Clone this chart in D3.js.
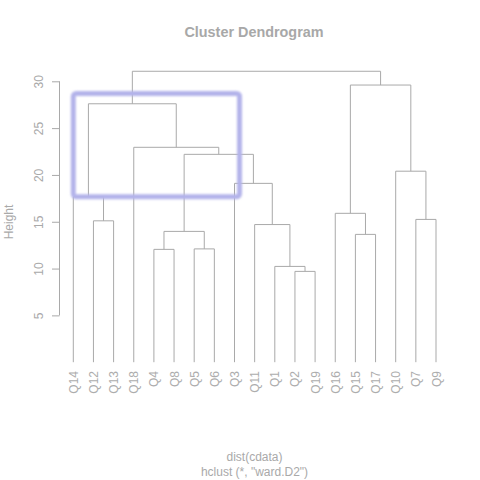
<!DOCTYPE html>
<html><head><meta charset="utf-8">
<script src="https://cdn.jsdelivr.net/npm/d3@7"></script>
<style>body{margin:0;background:#fff}svg{display:block}text{font-family:"Liberation Sans",Arial,sans-serif}</style>
</head><body><svg id="c" width="480" height="480"></svg>
<script>
// leaf order as drawn
const leaves = ["Q14","Q12","Q13","Q18","Q4","Q8","Q5","Q6","Q3","Q11","Q1","Q2","Q19","Q16","Q15","Q17","Q10","Q7","Q9"];
// merges: [left, right, height]; numbers refer to earlier merge steps (1-based)
const merges = [
  ["Q2","Q19",9.7],
  ["Q1",1,10.23],
  ["Q4","Q8",12.05],
  ["Q5","Q6",12.1],
  ["Q15","Q17",13.65],
  [3,4,13.97],
  ["Q11",2,14.7],
  ["Q12","Q13",15.1],
  ["Q7","Q9",15.25],
  ["Q16",5,15.9],
  ["Q14",8,17.67],
  ["Q3",7,19.1],
  ["Q10",9,20.4],
  [6,12,22.2],
  ["Q18",14,22.95],
  [11,15,27.6],
  [10,13,29.6],
  [16,17,31.07]
];
const yTicks = [5,10,15,20,25,30];
const highlight = {from:"Q14", to:"Q3", low:17.67, high:28.7};
const title = "Cluster Dendrogram";
const xlab = ["dist(cdata)", "hclust (*, \"ward.D2\")"];
const ylab = "Height";

const svg = d3.select("#c");
const grey = "#a9a9a9";
const x = d3.scalePoint().domain(leaves).range([73.3, 436]);
const y = d3.scaleLinear().domain([0, 30]).range([362.2, 81.3]);

// build nested tree
function build(ref){
  if (typeof ref === "string") return {name: ref, height: 0};
  const m = merges[ref-1];
  return {height: m[2], children: [build(m[0]), build(m[1])]};
}
const root = d3.hierarchy(build(merges.length));
root.eachAfter(n => {
  if (!n.children) n.px = x(n.data.name);
  else n.px = (n.children[0].px + n.children[1].px) / 2;
  n.py = y(n.data.height);
});

const g = svg.append("g").attr("fill","none").attr("stroke",grey).attr("stroke-width",1);
root.descendants().filter(n => n.children).forEach(n => {
  const [a, b] = n.children;
  g.append("path").attr("d",
    `M${a.px},${a.py}V${n.py}H${b.px}V${b.py}`);
});

// highlight rectangle
const defs = svg.append("defs");
defs.append("filter").attr("id","bl").append("feGaussianBlur").attr("stdDeviation",1);
const step = x.step();
svg.append("rect")
  .attr("x", x(highlight.from))
  .attr("y", y(highlight.high))
  .attr("width", x(highlight.to) + step*0.25 - x(highlight.from))
  .attr("height", y(highlight.low) - y(highlight.high))
  .attr("rx", 3).attr("fill","none")
  .attr("stroke","#b3b3ea").attr("stroke-width",5)
  .attr("filter","url(#bl)");

// y axis
const ax = svg.append("g").attr("transform","translate(59.5,0)")
  .call(d3.axisLeft(y).tickValues(yTicks).tickSize(7.5).tickSizeOuter(0).tickFormat(d3.format("d")));
ax.select(".domain").remove();
ax.append("line").attr("x1",0).attr("x2",0).attr("y1",y(yTicks[0])).attr("y2",y(yTicks[yTicks.length-1])).attr("stroke",grey);
ax.selectAll(".tick line").attr("stroke",grey);
ax.selectAll(".tick text").attr("fill",grey).attr("font-size",12)
  .attr("x",null).attr("dy",null)
  .attr("transform","translate(-16.5,0) rotate(-90)")
  .attr("text-anchor","middle");

// leaf labels
svg.append("g").selectAll("text").data(leaves).join("text")
  .attr("transform", d => `translate(${x(d)+4.5},371) rotate(-90)`)
  .attr("text-anchor","end").attr("font-size",12).attr("fill","#adadad")
  .text(d => d);

// title and labels
svg.append("text").attr("x",254).attr("y",36.5).attr("text-anchor","middle")
  .attr("font-size",14.4).attr("font-weight","bold").attr("fill","#a8a8a8").text(title);
svg.append("text").attr("x",254.5).attr("y",461).attr("text-anchor","middle")
  .attr("font-size",12).attr("fill",grey).text(xlab[0]);
svg.append("text").attr("x",254.5).attr("y",476).attr("text-anchor","middle")
  .attr("font-size",12).attr("fill",grey).text(xlab[1]);
svg.append("text").attr("transform","translate(13,222) rotate(-90)").attr("text-anchor","middle")
  .attr("font-size",12).attr("fill",grey).text(ylab);
</script></body></html>
